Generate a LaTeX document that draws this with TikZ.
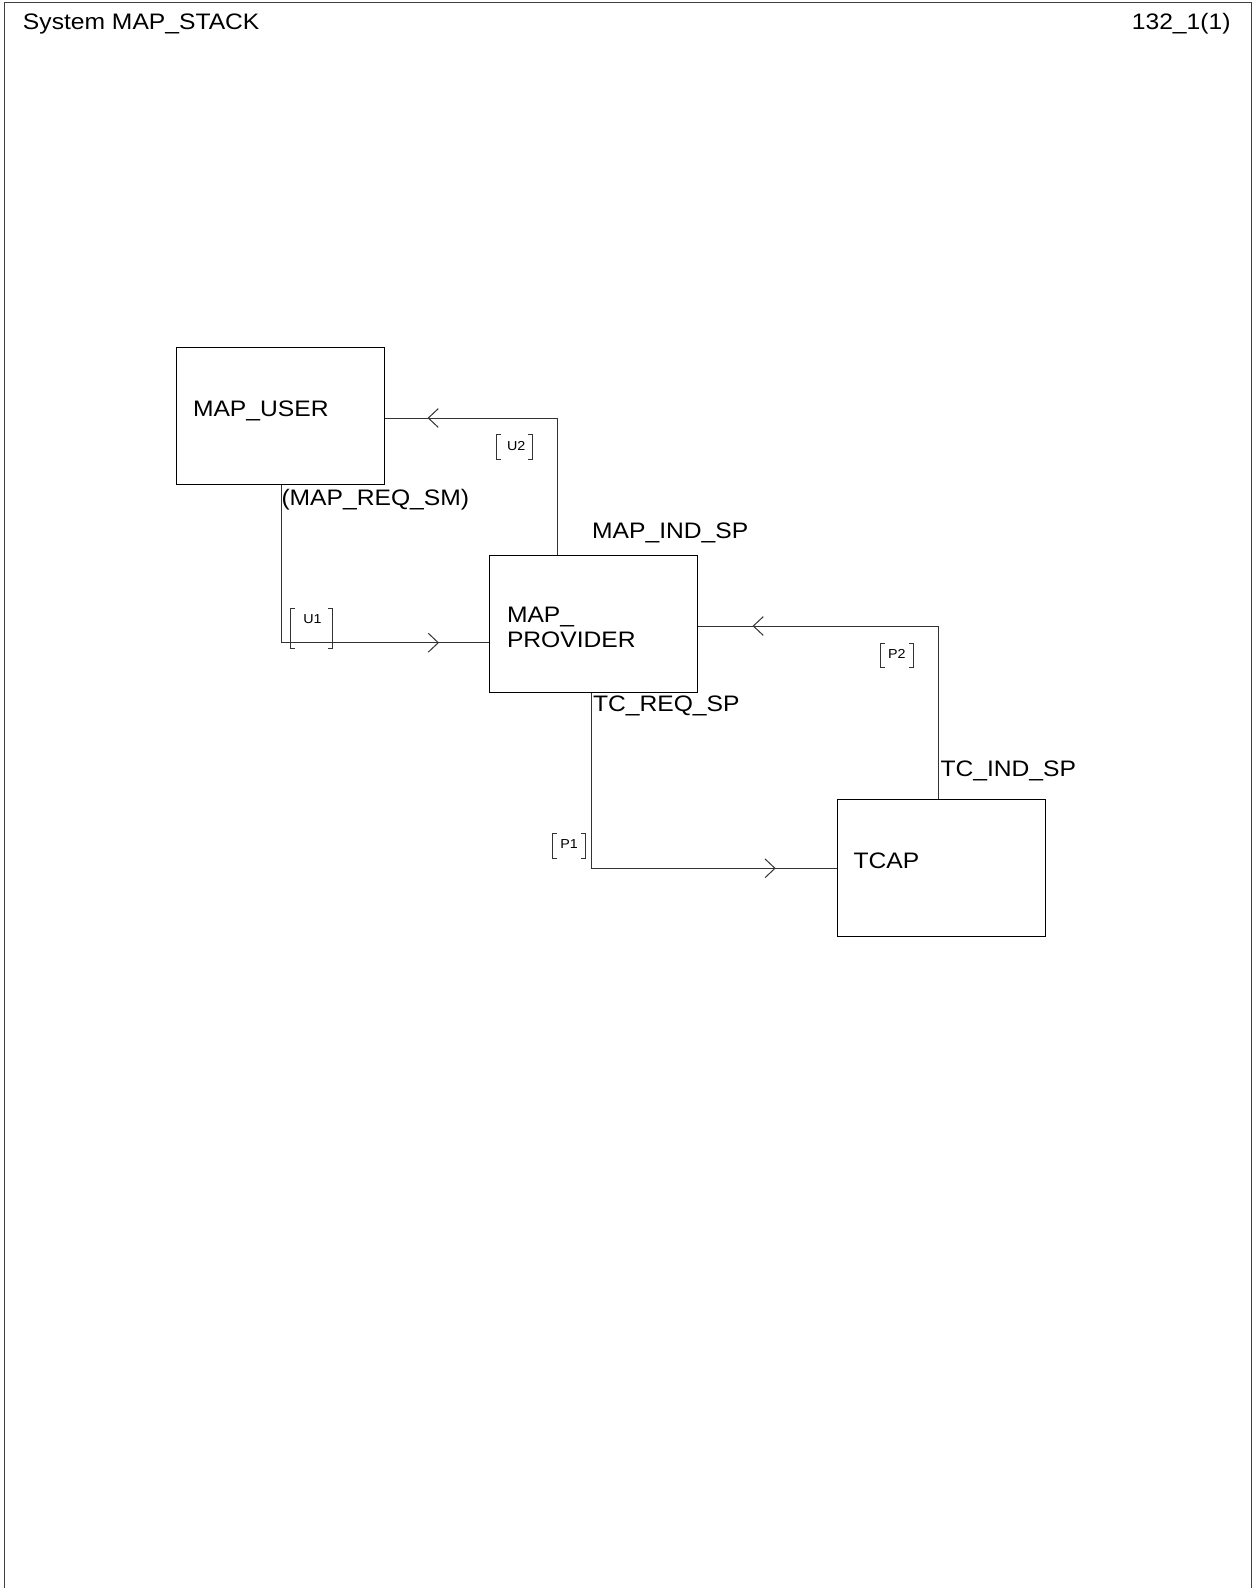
\documentclass[tikz,border=0pt]{standalone}
\usepackage{fontspec}
\setmainfont[FakeStretch=1.1]{Liberation Sans}
\usetikzlibrary{calc}
\begin{document}
\begin{tikzpicture}[x=1pt,y=-1pt,
  line width=1pt,
  blockbox/.style={draw=black,line width=1pt,minimum width=208pt,minimum height=137pt,anchor=north west,inner sep=0pt},
  bigtext/.style={font=\fontsize{22.4}{24.5}\selectfont,inner sep=0pt,anchor=base west},
  smalltext/.style={font=\fontsize{13}{13}\selectfont,inner sep=0pt,anchor=base west},
  conn/.style={draw=black!80,line width=1pt},
  chev/.style={draw=black!80,line width=1pt},
  brk/.style={draw=black!80,line width=0.9pt}]
\useasboundingbox (0,0) rectangle (1258,1588);
% frame
\draw[line width=1pt,draw=black!75] (4,1588) -- (4,2) -- (1251,2) -- (1251,1588);
\node[bigtext] (title) at (22.5,29.3) {System MAP\_STACK};
\node[bigtext,anchor=base east] (page) at (1231,29.3) {132\_1(1)};

% blocks
\node[blockbox] (user) at (176,347) {};
\node[blockbox] (prov) at (489,555) {};
\node[blockbox] (tcap) at (836.5,799.3) {};
\node[bigtext] (usertxt) at (192.5,416) {MAP\_USER};
\node[bigtext] (provtxt1) at (506.5,622.7) {MAP\_};
\node[bigtext] (provtxt2) at (506.5,647.3) {PROVIDER};
\node[bigtext] (tcaptxt) at (853,868.3) {TCAP};

% channel U1: user -> provider
\coordinate (u1a) at ($(user.south west)+(105,0)$);
\coordinate (u1b) at ($(prov.north west)+(0,87.7)$);
\draw[conn] (u1a) |- (u1b);
\draw[chev] (428.3,633.3) -- (438.3,642.7) -- (428.3,652.1);
% channel U2: provider -> user
\coordinate (u2a) at ($(prov.north west)+(68.3,0)$);
\coordinate (u2b) at ($(user.north east)+(0,71)$);
\draw[conn] (u2a) |- (u2b);
\draw[chev] (438.3,408.6) -- (428.3,418) -- (438.3,427.4);
% channel P1: provider -> tcap
\coordinate (p1a) at ($(prov.south west)+(102.7,0)$);
\coordinate (p1b) at ($(tcap.north west)+(0,69)$);
\draw[conn] (p1a) |- (p1b);
\draw[chev] (765,858.9) -- (775,868.3) -- (765,877.7);
% channel P2: tcap -> provider
\coordinate (p2a) at ($(tcap.north west)+(101.8,0)$);
\coordinate (p2b) at ($(prov.north east)+(0,71)$);
\draw[conn] (p2a) |- (p2b);
\draw[chev] (763.3,616.6) -- (753.3,626) -- (763.3,635.4);

% signal lists
\node[bigtext] (sl1) at (281,505) {(MAP\_REQ\_SM)};
\node[bigtext] (sl2) at (591.7,538.3) {MAP\_IND\_SP};
\node[bigtext] (sl3) at (592.5,711.7) {TC\_REQ\_SP};
\node[bigtext] (sl4) at (940,776.7) {TC\_IND\_SP};

% channel name brackets
\draw[brk] (295,608.3) -- (290.7,608.3) -- (290.7,648.3) -- (295,648.3);
\draw[brk] (328,608.3) -- (332.3,608.3) -- (332.3,648.3) -- (328,648.3);
\node[smalltext] (u1lbl) at (302.8,623.3) {U1};

\draw[brk] (500.5,434) -- (496,434) -- (496,459.3) -- (500.5,459.3);
\draw[brk] (527.8,434) -- (532.3,434) -- (532.3,459.3) -- (527.8,459.3);
\node[smalltext] (u2lbl) at (506.5,450.7) {U2};

\draw[brk] (556.8,833.3) -- (552.3,833.3) -- (552.3,858.3) -- (556.8,858.3);
\draw[brk] (581.2,833.3) -- (585.7,833.3) -- (585.7,858.3) -- (581.2,858.3);
\node[smalltext] (p1lbl) at (559.8,848.3) {P1};

\draw[brk] (884.5,643.3) -- (880,643.3) -- (880,667.3) -- (884.5,667.3);
\draw[brk] (908.8,643.3) -- (913.3,643.3) -- (913.3,667.3) -- (908.8,667.3);
\node[smalltext] (p2lbl) at (887.5,658.3) {P2};
\end{tikzpicture}
\end{document}
